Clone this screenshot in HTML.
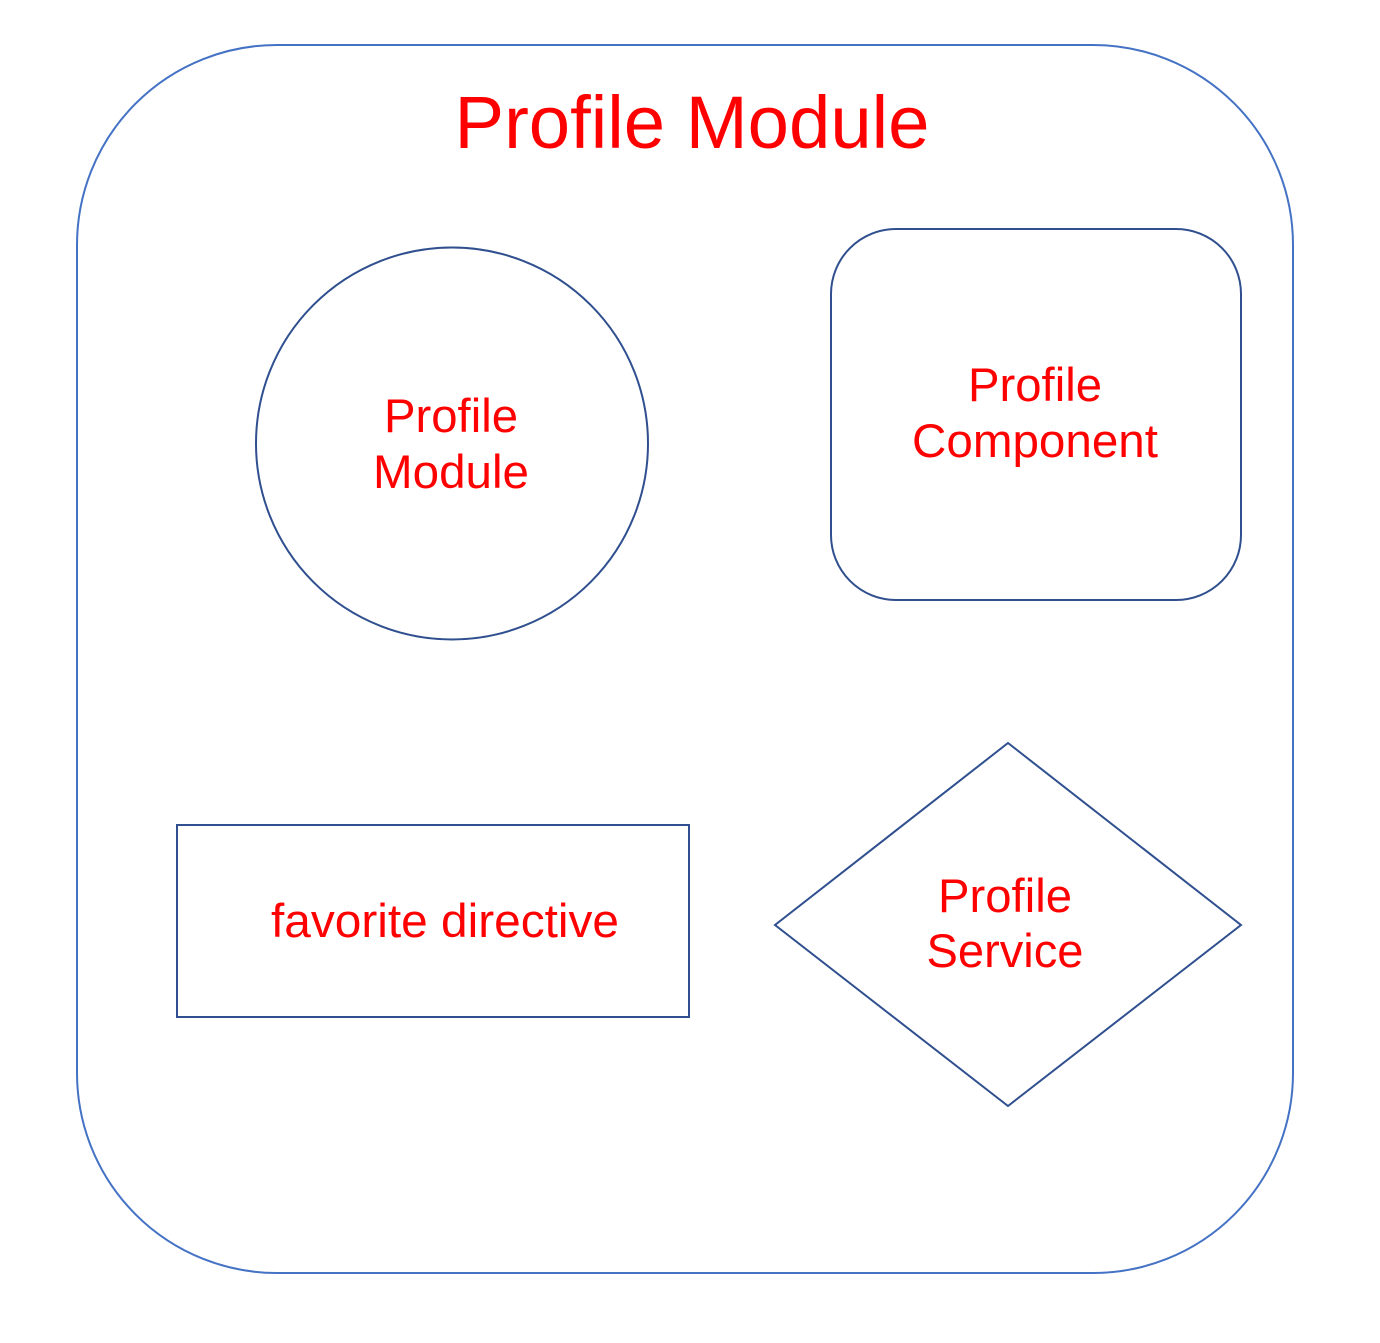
<!DOCTYPE html>
<html><head><meta charset="utf-8"><style>html,body{margin:0;padding:0;background:#fff}</style></head>
<body>
<svg width="1380" height="1338" viewBox="0 0 1380 1338" xmlns="http://www.w3.org/2000/svg">
<rect x="77" y="45" width="1216" height="1228" rx="200" ry="200" fill="none" stroke="#4472C4" stroke-width="2"/>
<g font-family="Liberation Sans, Arial, sans-serif" fill="#FF0000" text-anchor="middle">
<text x="692" y="148" font-size="74" textLength="475" lengthAdjust="spacingAndGlyphs">Profile Module</text>
<text x="451" y="432" font-size="47" textLength="134" lengthAdjust="spacingAndGlyphs">Profile</text>
<text x="451" y="488" font-size="47" textLength="156" lengthAdjust="spacingAndGlyphs">Module</text>
<text x="1035" y="401" font-size="47" textLength="134" lengthAdjust="spacingAndGlyphs">Profile</text>
<text x="1035" y="457" font-size="47" textLength="246" lengthAdjust="spacingAndGlyphs">Component</text>
<text x="445" y="937" font-size="47" textLength="348" lengthAdjust="spacingAndGlyphs">favorite directive</text>
<text x="1005" y="912" font-size="47" textLength="134" lengthAdjust="spacingAndGlyphs">Profile</text>
<text x="1005" y="967" font-size="47" textLength="157" lengthAdjust="spacingAndGlyphs">Service</text>
</g>
<circle cx="452" cy="443.5" r="196" fill="none" stroke="#2F4F8F" stroke-width="2"/>
<rect x="831" y="229" width="410" height="371" rx="65" ry="65" fill="none" stroke="#2F4F8F" stroke-width="2"/>
<rect x="177" y="825" width="512" height="192" fill="none" stroke="#2F4F8F" stroke-width="2"/>
<polygon points="1008,743 1241,925 1008,1106 775,925" fill="none" stroke="#2F4F8F" stroke-width="2"/>
</svg>
</body></html>
